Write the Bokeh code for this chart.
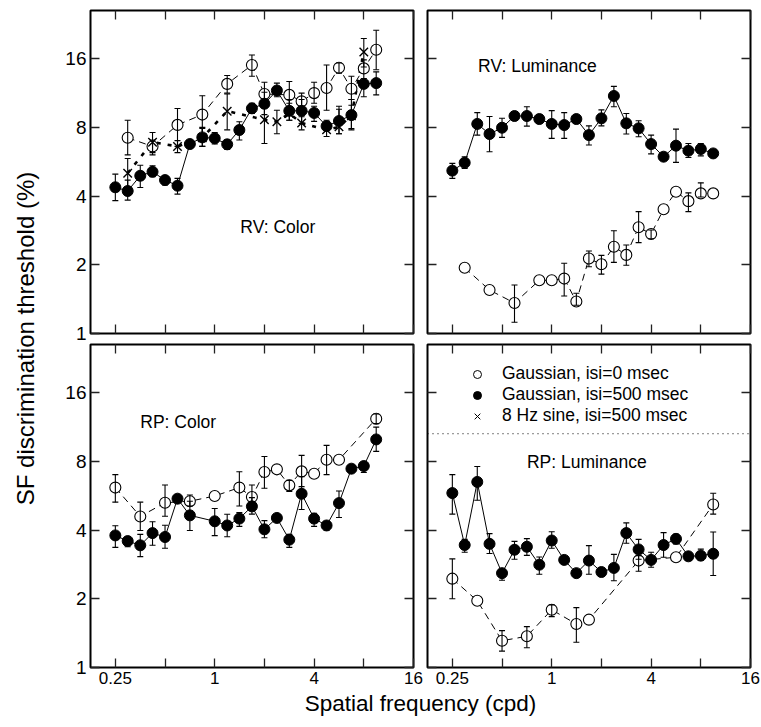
import math
from bokeh.plotting import figure
from bokeh.layouts import row, column
from bokeh.models import (LogAxis, FixedTicker, Whisker, TeeHead, ColumnDataSource,
                          Legend, LegendItem, Span, Range1d)
from bokeh.core.properties import value
from bokeh.embed import file_html
from bokeh.resources import INLINE

FONT = "Liberation Sans"

# ---------------- data ----------------
FREQ = [0.25, 0.297, 0.354, 0.42, 0.5, 0.595, 0.707, 0.841, 1.0, 1.19, 1.41, 1.68,
        2.0, 2.38, 2.83, 3.36, 4.0, 4.76, 5.66, 6.73, 8.0, 9.51]
X_TICKS = [0.25, 0.5, 1, 2, 4, 8, 16]
X_LABEL_TICKS = [0.25, 1, 4, 16]
X_LABELS = {0.25: "0.25", 1: "1", 4: "4", 16: "16"}
Y_TICKS = [1, 2, 4, 8, 16]
Y_LABELS = {1: "1", 2: "2", 4: "4", 8: "8", 16: "16"}

# RV: Color
RVC_FILL_IDX = list(range(22))
RVC_FILL = [4.37, 4.21, 4.91, 5.11, 4.70, 4.44, 6.76, 7.23, 7.16, 6.74, 7.79, 9.69,
            10.15, 11.6, 9.45, 9.45, 9.25, 8.1, 8.53, 9.05, 12.4, 12.5]
RVC_FILL_LO = [3.82, 3.84, 4.36, 4.86, 4.47, 4.08, 6.6, 6.6, 6.76, 6.4, 7.04, 9.2,
               9.1, 10.9, 8.6, 8.33, 8.5, 7.8, 7.5, 7.9, 10.9, 11.1]
RVC_FILL_HI = [4.99, 4.70, 5.46, 5.43, 4.90, 4.78, 6.9, 7.92, 7.6, 7.04, 8.47, 10.2,
               11.4, 12.5, 10.6, 10.6, 9.9, 8.6, 9.9, 10.6, 13.1, 14.0]
RVC_OPEN_IDX = [1, 3, 5, 7, 9, 11, 12, 14, 15, 16, 17, 18, 19, 20, 21]
RVC_OPEN = [7.2, 6.6, 8.2, 9.1, 12.4, 15.0, 11.2, 11.1, 10.4, 11.3, 11.9, 14.6, 11.8, 14.5, 17.5]
RVC_OPEN_LO = [6.06, 6.06, 6.6, 7.5, 11.3, 13.4, 10.2, 9.8, 9.67, 10.2, 9.5, 13.8, 10.6, 12.8, 14.3]
RVC_OPEN_HI = [8.6, 7.04, 9.67, 11.0, 13.5, 16.6, 12.6, 12.7, 11.3, 12.6, 15.0, 15.3, 13.4, 15.8, 21.3]
RVC_SINE_IDX = [1, 3, 5, 7, 9, 12, 13, 14, 15, 17, 18, 19, 20]
RVC_SINE = [5.04, 6.89, 6.6, 7.2, 9.42, 8.64, 8.47, 9.2, 8.35, 7.8, 8.04, 9.0, 17.1]
RVC_SINE_LO = [4.37, 6.2, 6.2, 6.6, 7.8, 6.8, 7.5, 8.6, 7.8, 7.3, 7.5, 7.8, 14.7]
RVC_SINE_HI = [5.84, 7.6, 7.0, 8.0, 11.2, 10.0, 9.5, 10.2, 8.9, 8.3, 9.6, 10.0, 19.6]

# RV: Luminance
RVL_FILL_IDX = list(range(22))
RVL_FILL = [5.17, 5.60, 8.28, 7.48, 7.97, 8.97, 8.97, 8.70, 8.28, 8.19, 8.70, 7.40,
            8.76, 10.98, 8.33, 7.92, 6.76, 5.95, 6.65, 6.32, 6.43, 6.15]
RVL_FILL_LO = [4.78, 5.29, 7.4, 6.25, 7.23, 8.7, 8.1, 8.35, 7.16, 7.16, None, 6.7,
               8.12, 9.85, 7.48, 7.28, 6.12, None, 5.62, 5.9, 6.0, None]
RVL_FILL_HI = [5.56, 5.95, 9.28, 8.92, 8.77, 9.2, 9.85, 9.1, 9.47, 9.28, None, 8.12,
               9.54, 12.1, 9.2, 8.55, 7.4, None, 7.86, 6.8, 6.8, None]
RVL_OPEN_IDX = [1, 3, 5, 7, 8, 9, 10, 11, 12, 13, 14, 15, 16, 17, 18, 19, 20, 21]
RVL_OPEN = [1.94, 1.55, 1.36, 1.71, 1.71, 1.74, 1.38, 2.13, 2.01, 2.40, 2.21, 2.92,
            2.73, 3.50, 4.18, 3.80, 4.11, 4.11]
RVL_OPEN_LO = [None, None, 1.12, None, None, 1.46, 1.33, 1.96, 1.82, 2.05, 1.99, 2.5,
               2.6, None, None, 3.42, 3.96, None]
RVL_OPEN_HI = [None, None, 1.63, None, None, 2.03, 1.50, 2.3, 2.2, 2.82, 2.44, 3.42,
               2.84, None, None, 4.13, 4.57, None]

# RP: Color
RPC_FILL_IDX = [0, 1, 2, 3, 4, 5, 6, 8, 9, 10, 11, 12, 13, 14, 15, 16, 17, 18, 19, 20, 21]
RPC_FILL = [3.79, 3.58, 3.43, 3.88, 3.73, 5.49, 4.64, 4.37, 4.19, 4.49, 5.08, 4.03,
            4.52, 3.63, 5.77, 4.49, 4.19, 5.25, 7.43, 7.63, 9.98]
RPC_FILL_LO = [3.36, 3.38, 3.06, 3.43, 3.33, None, 3.98, 3.78, 3.74, 4.15, 4.7, 3.7,
               None, 3.36, 4.92, 4.15, 3.99, 4.54, None, 7.15, 8.85]
RPC_FILL_HI = [4.18, 3.73, 3.83, 4.35, 4.2, None, 5.35, 4.97, 4.69, 4.77, 5.55, 4.4,
               None, 3.83, 6.86, 4.74, 4.37, 5.93, None, 7.95, 11.3]
RPC_OPEN_IDX = [0, 2, 4, 6, 8, 10, 11, 12, 13, 14, 15, 16, 17, 18, 21]
RPC_OPEN = [6.14, 4.59, 5.27, 5.35, 5.64, 6.14, 5.58, 7.18, 7.38, 6.28, 7.23, 7.06, 8.13, 8.13, 12.3]
RPC_OPEN_LO = [5.3, 3.98, 4.6, 5.1, None, 5.1, 5.3, 6.1, None, 5.9, 6.2, None, 7.0, None, 11.7]
RPC_OPEN_HI = [7.0, 5.3, 6.3, 5.7, None, 7.2, 6.3, 8.4, None, 6.6, 8.5, None, 9.4, None, 12.9]

# RP: Luminance
RPL_FILL_IDX = list(range(22))
RPL_FILL = [5.81, 3.44, 6.50, 3.48, 2.59, 3.28, 3.38, 2.82, 3.60, 2.96, 2.59, 2.94,
            2.62, 2.73, 3.88, 3.29, 2.96, 3.44, 3.66, 3.07, 3.09, 3.15]
RPL_FILL_LO = [4.7, 3.20, 5.4, 3.16, 2.41, 2.98, 3.1, 2.56, 3.33, None, None, 2.56,
               None, 2.4, 3.5, 2.98, 2.75, 3.04, 3.48, None, 2.95, 2.53]
RPL_FILL_HI = [7.0, 3.64, 7.6, 3.86, 2.68, 3.57, 3.67, 3.05, 3.93, None, None, 3.42,
               None, 3.13, 4.3, 3.64, 3.2, 3.9, 3.83, None, 3.3, 3.92]
RPL_OPEN_IDX = [0, 2, 4, 6, 8, 10, 11, 15, 18, 21]
RPL_OPEN = [2.45, 1.96, 1.31, 1.37, 1.79, 1.55, 1.62, 2.94, 3.04, 5.18]
RPL_OPEN_LO = [2.0, None, 1.18, 1.22, 1.67, 1.29, None, 2.64, None, 4.7]
RPL_OPEN_HI = [2.99, None, 1.45, 1.51, 1.88, 1.83, None, 3.09, None, 5.8]

LEGEND_LABELS = ["Gaussian, isi=0 msec", "Gaussian, isi=500 msec", "8 Hz sine, isi=500 msec"]

X_RANGE = (0.1768, 16)
Y_RANGE = (1, 26)
FRAME = 323
TICK_COLOR = "#222222"


def tick_axis(ax, ticks):
    """Axis that only draws inward tick marks (labels not drawn)."""
    ax.ticker = FixedTicker(ticks=ticks, minor_ticks=[])
    ax.major_tick_in = 9
    ax.major_tick_out = 0
    ax.minor_tick_in = 0
    ax.minor_tick_out = 0
    ax.axis_line_color = None
    ax.major_tick_line_color = TICK_COLOR
    ax.major_tick_line_width = 1.3
    ax.major_label_text_font_size = "1px"
    ax.major_label_text_alpha = 0
    ax.major_label_text_color = None
    ax.major_label_standoff = 0


def label_axis(ax, ticks, labels, size, standoff):
    """Axis that only draws the tick labels (no tick marks)."""
    ax.ticker = FixedTicker(ticks=ticks, minor_ticks=[])
    ax.major_tick_in = 0
    ax.major_tick_out = 0
    ax.minor_tick_in = 0
    ax.minor_tick_out = 0
    ax.axis_line_color = None
    ax.major_tick_line_color = None
    ax.major_label_overrides = labels
    ax.major_label_text_font = FONT
    ax.major_label_text_font_size = size
    ax.major_label_text_color = "black"
    ax.major_label_standoff = standoff


def make_panel(xlabels, ylabels, mb):
    p = figure(x_axis_type="log", y_axis_type="log",
               x_range=Range1d(*X_RANGE), y_range=Range1d(*Y_RANGE),
               frame_width=FRAME, frame_height=FRAME,
               toolbar_location=None, output_backend="svg",
               min_border_left=mb[0], min_border_right=mb[1],
               min_border_top=mb[2], min_border_bottom=mb[3],
               background_fill_color="white", border_fill_color="white")
    p.xgrid.visible = False
    p.ygrid.visible = False
    p.outline_line_color = "black"
    p.outline_line_width = 2

    tick_axis(p.xaxis[0], X_TICKS)
    tick_axis(p.yaxis[0], Y_TICKS)
    top = LogAxis()
    tick_axis(top, X_TICKS)
    p.add_layout(top, "above")
    right = LogAxis()
    tick_axis(right, Y_TICKS)
    p.add_layout(right, "right")
    if xlabels:
        xl = LogAxis()
        label_axis(xl, X_LABEL_TICKS, X_LABELS, "17px", 4)
        p.add_layout(xl, "below")
    if ylabels:
        yl = LogAxis()
        label_axis(yl, Y_TICKS, Y_LABELS, "19px", 4)
        p.add_layout(yl, "left")
    return p


def series(p, idx, vals, lo, hi, kind, draw):
    xs = [FREQ[i] for i in idx]
    src = ColumnDataSource(dict(x=xs, y=vals))
    if draw == "line":
        if kind == "open":
            p.line("x", "y", source=src, line_color="black", line_width=1, line_dash="7 5")
        elif kind == "fill":
            p.line("x", "y", source=src, line_color="black", line_width=1)
        else:
            p.line("x", "y", source=src, line_color="black", line_width=2.6, line_dash="4 7")
        return
    if draw == "marker":
        if kind == "open":
            p.scatter("x", "y", source=src, marker="circle", size=11,
                      fill_color="white", line_color="black", line_width=1.1)
        elif kind == "fill":
            p.scatter("x", "y", source=src, marker="circle", size=11,
                      fill_color="black", line_color="black")
        else:
            p.scatter("x", "y", source=src, marker="x", size=12,
                      line_color="black", line_width=1.4)
        return
    # error bars
    ex, el, eh = [], [], []
    for x, a, b in zip(xs, lo, hi):
        if a is not None and b is not None:
            ex.append(x)
            el.append(a)
            eh.append(b)
    esrc = ColumnDataSource(dict(x=ex, lo=el, hi=eh))
    w = Whisker(source=esrc, base="x", lower="lo", upper="hi", dimension="height",
                line_color="black", line_width=1.1, level="overlay",
                upper_head=TeeHead(size=6, line_color="black", line_width=1.1),
                lower_head=TeeHead(size=6, line_color="black", line_width=1.1))
    p.add_layout(w)


def fill_panel(p, groups):
    for g in groups:
        series(p, *g, draw="line")
    for g in groups:
        series(p, *g, draw="marker")
    for g in groups:
        series(p, *g, draw="err")


def panel_text(p, x, y, txt):
    p.text(x=[x], y=[y], text=[txt], text_font=value(FONT), text_font_size="17.5px",
           text_align="left", text_baseline="middle", text_color="black")


# Top-left: RV Color
p1 = make_panel(False, True, (50, 11, 10, 10))
fill_panel(p1, [
    (RVC_OPEN_IDX, RVC_OPEN, RVC_OPEN_LO, RVC_OPEN_HI, "open"),
    (RVC_SINE_IDX, RVC_SINE, RVC_SINE_LO, RVC_SINE_HI, "sine"),
    (RVC_FILL_IDX, RVC_FILL, RVC_FILL_LO, RVC_FILL_HI, "fill"),
])
panel_text(p1, 1.43, 2.94, "RV: Color")

# Top-right: RV Luminance
p2 = make_panel(False, False, (3, 11, 10, 10))
fill_panel(p2, [
    (RVL_OPEN_IDX, RVL_OPEN, RVL_OPEN_LO, RVL_OPEN_HI, "open"),
    (RVL_FILL_IDX, RVL_FILL, RVL_FILL_LO, RVL_FILL_HI, "fill"),
])
panel_text(p2, 0.358, 14.9, "RV: Luminance")

# Bottom-left: RP Color
p3 = make_panel(True, True, (50, 11, 1, 25))
fill_panel(p3, [
    (RPC_OPEN_IDX, RPC_OPEN, RPC_OPEN_LO, RPC_OPEN_HI, "open"),
    (RPC_FILL_IDX, RPC_FILL, RPC_FILL_LO, RPC_FILL_HI, "fill"),
])
panel_text(p3, 0.354, 11.85, "RP: Color")

# Bottom-right: RP Luminance
p4 = make_panel(True, False, (3, 11, 1, 25))
fill_panel(p4, [
    (RPL_OPEN_IDX, RPL_OPEN, RPL_OPEN_LO, RPL_OPEN_HI, "open"),
    (RPL_FILL_IDX, RPL_FILL, RPL_FILL_LO, RPL_FILL_HI, "fill"),
])
panel_text(p4, 0.708, 7.91, "RP: Luminance")
p4.add_layout(Span(location=10.57, dimension="width", line_color="black",
                   line_width=1, line_dash="1 4"))

# hidden renderers that only supply the legend glyphs
lg_open = p4.scatter([FREQ[i] for i in RPL_OPEN_IDX], RPL_OPEN, marker="circle",
                     fill_color="white", line_color="black", line_width=1, visible=False)
lg_fill = p4.scatter([FREQ[i] for i in RPL_FILL_IDX], RPL_FILL, marker="circle",
                     fill_color="black", line_color="black", visible=False)
lg_sine = p4.scatter([FREQ[i] for i in RVC_SINE_IDX], RVC_SINE, marker="x",
                     line_color="black", line_width=1, visible=False)
legend = Legend(items=[LegendItem(label=LEGEND_LABELS[0], renderers=[lg_open]),
                       LegendItem(label=LEGEND_LABELS[1], renderers=[lg_fill]),
                       LegendItem(label=LEGEND_LABELS[2], renderers=[lg_sine])],
                location=(39, 241), glyph_width=22, glyph_height=20, label_height=20,
                label_standoff=14, spacing=0, padding=0, margin=0,
                border_line_color=None, background_fill_alpha=0,
                inactive_fill_alpha=0,
                label_text_font=FONT, label_text_font_size="17.5px",
                label_text_color="black")
p4.add_layout(legend, "center")

# Axis titles
ylab = figure(width=40, height=727, x_range=Range1d(0, 40), y_range=Range1d(0, 727),
              toolbar_location=None, output_backend="svg", min_border=0,
              x_axis_location=None, y_axis_location=None, outline_line_color=None)
ylab.grid.visible = False
ylab.text(x=[25], y=[727 - 338], text=["SF discrimination threshold (%)"], angle=math.pi / 2,
          text_font=value(FONT), text_font_size="24px", text_align="center",
          text_baseline="middle", text_color="black")

xlab = figure(width=721, height=35, x_range=Range1d(0, 721), y_range=Range1d(0, 35),
              toolbar_location=None, output_backend="svg", min_border=0,
              x_axis_location=None, y_axis_location=None, outline_line_color=None)
xlab.grid.visible = False
xlab.text(x=[380], y=[24], text=["Spatial frequency (cpd)"],
          text_font=value(FONT), text_font_size="22.5px", text_align="center",
          text_baseline="middle", text_color="black")

layout = row(ylab, column(row(p1, p2), row(p3, p4), xlab))

open("out.html", "w").write(file_html(layout, INLINE))
